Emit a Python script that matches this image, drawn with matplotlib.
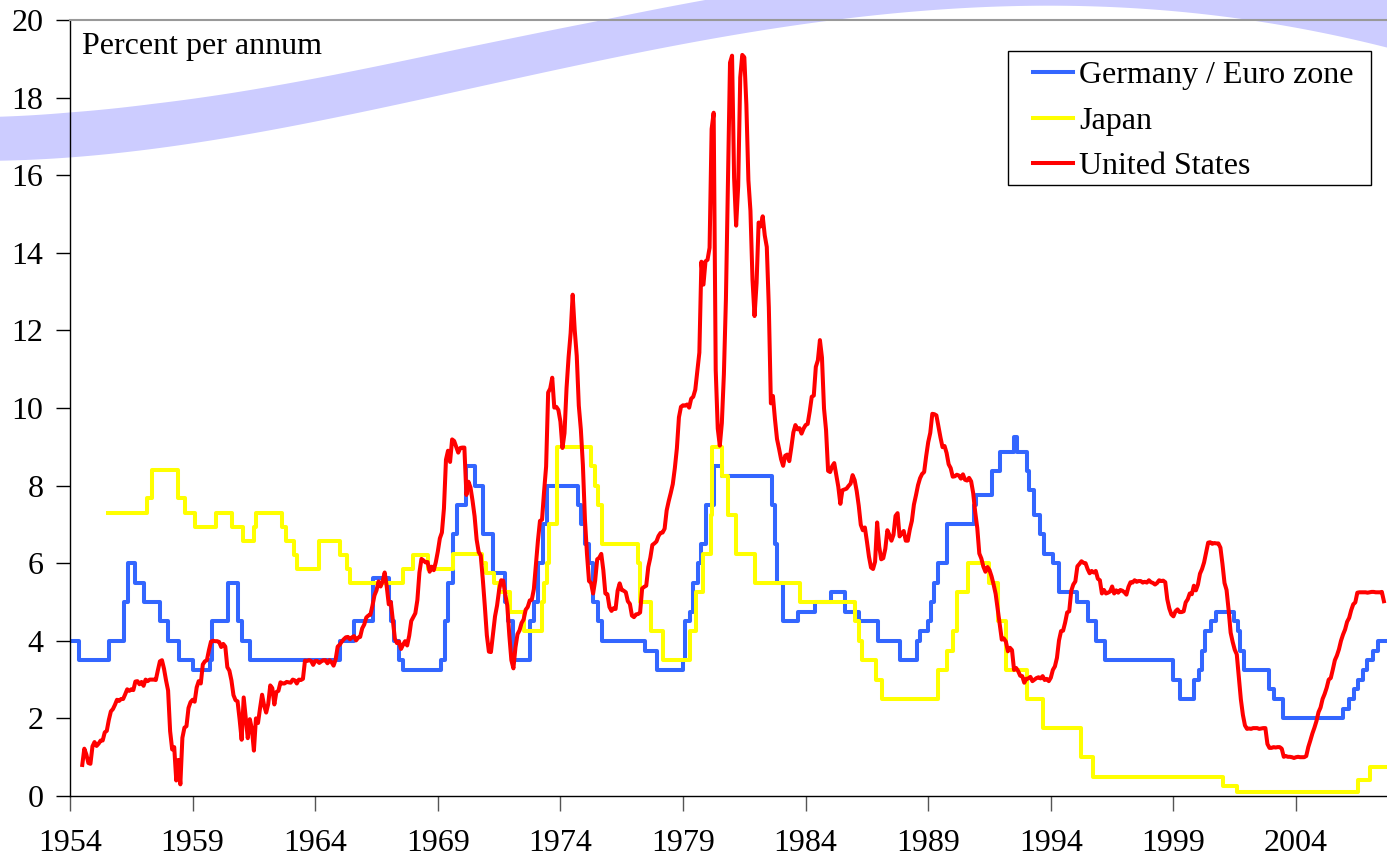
import numpy as np
import matplotlib
matplotlib.use("Agg")
import matplotlib.pyplot as plt
from matplotlib.patches import Rectangle

plt.rcParams['font.family'] = ['Liberation Serif', 'DejaVu Serif']

# Germany / Euro zone: date of change, rate (steps)
ger_dates = [1954.0, 1954.38, 1955.6, 1956.2, 1956.35, 1956.67, 1957.0, 1957.65, 1958.0, 1958.45,
             1959.0, 1959.7, 1959.8, 1960.45, 1960.85, 1961.0, 1961.35, 1965.0, 1965.58, 1966.35,
             1967.0, 1967.1, 1967.2, 1967.4, 1967.58, 1969.15, 1969.3, 1969.43, 1969.6, 1969.8,
             1970.17, 1970.5, 1970.85, 1971.25, 1971.72, 1971.85, 1972.05, 1972.75, 1972.92, 1973.1,
             1973.3, 1973.45, 1974.72, 1974.85, 1975.0, 1975.15, 1975.33, 1975.55, 1975.68, 1977.45,
             1977.93, 1979.0, 1979.1, 1979.28, 1979.42, 1979.6, 1979.72, 1979.92, 1980.25, 1980.6,
             1982.63, 1982.75, 1982.85, 1983.08, 1983.67, 1984.4, 1985.05, 1985.62, 1986.17, 1986.97,
             1987.85, 1988.55, 1988.65, 1989.0, 1989.1, 1989.25, 1989.4, 1989.77, 1990.85, 1990.95,
             1991.6, 1991.93, 1992.5, 1992.62, 1993.02, 1993.12, 1993.3, 1993.55, 1993.72, 1994.08,
             1994.33, 1995.08, 1995.53, 1995.85, 1996.2, 1999.0, 1999.25, 1999.83, 2000.05, 2000.15,
             2000.3, 2000.55, 2000.75, 2001.45, 2001.62, 2001.7, 2001.87, 2002.88, 2003.12, 2003.45,
             2005.92, 2006.18, 2006.35, 2006.52, 2006.72, 2006.88, 2007.12, 2007.33, 2007.7]
ger_rates = [4.0, 3.5, 4.0, 5.0, 6.0, 5.5, 5.0, 4.5, 4.0, 3.5,
             3.25, 3.5, 4.5, 5.5, 4.5, 4.0, 3.5, 4.0, 4.5, 5.625,
             5.0, 4.5, 4.0, 3.5, 3.25, 3.5, 4.5, 5.5, 6.75, 7.5,
             8.5, 8.0, 6.75, 5.75, 5.0, 4.5, 3.5, 4.5, 5.0, 6.0,
             7.0, 8.0, 7.5, 7.0, 6.5, 6.0, 5.0, 4.5, 4.0, 3.75,
             3.25, 3.5, 4.5, 4.75, 5.5, 6.0, 6.5, 7.5, 8.5, 8.25,
             7.5, 6.5, 5.5, 4.5, 4.75, 5.0, 5.25, 4.75, 4.5, 4.0,
             3.5, 4.0, 4.25, 4.5, 5.0, 5.5, 6.0, 7.0, 7.5, 7.75,
             8.375, 8.875, 9.25, 8.875, 8.375, 7.875, 7.25, 6.75, 6.25, 6.0,
             5.25, 5.0, 4.5, 4.0, 3.5, 3.0, 2.5, 3.0, 3.25, 3.75,
             4.25, 4.5, 4.75, 4.5, 4.25, 3.75, 3.25, 2.75, 2.5, 2.0,
             2.25, 2.5, 2.75, 3.0, 3.25, 3.5, 3.75, 4.0, 4.0]

# Japan: date of change, rate (steps)
jap_dates = [1955.55, 1957.15, 1957.35, 1958.4, 1958.68, 1959.1, 1959.95, 1960.62, 1961.05, 1961.52,
             1961.6, 1962.65, 1962.8, 1963.15, 1963.25, 1964.15, 1965.0, 1965.3, 1965.42, 1967.6,
             1967.97, 1968.6, 1969.6, 1970.8, 1970.95, 1971.3, 1971.5, 1971.95, 1972.5, 1973.25,
             1973.32, 1973.45, 1973.55, 1973.88, 1975.25, 1975.4, 1975.55, 1975.7, 1977.15, 1977.25,
             1977.68, 1978.2, 1979.3, 1979.52, 1979.83, 1980.15, 1980.2, 1980.58, 1980.85, 1981.18,
             1981.93, 1983.77, 1986.03, 1986.17, 1986.28, 1986.88, 1987.13, 1989.38, 1989.78, 1990.0,
             1990.17, 1990.63, 1991.48, 1991.83, 1992.17, 1993.03, 1993.67, 1995.23, 1995.7, 2001.03,
             2001.6, 2006.53, 2007.02, 2007.7]
jap_rates = [7.30, 7.67, 8.40, 7.67, 7.30, 6.94, 7.30, 6.94, 6.57, 6.94,
             7.30, 6.94, 6.57, 6.21, 5.84, 6.57, 6.21, 5.84, 5.48, 5.84,
             6.21, 5.84, 6.25, 6.0, 5.75, 5.5, 5.25, 4.75, 4.25, 5.0,
             5.5, 6.0, 7.0, 9.0, 8.5, 8.0, 7.5, 6.5, 6.0, 5.0,
             4.25, 3.5, 4.25, 5.25, 6.25, 7.25, 9.0, 8.25, 7.25, 6.25,
             5.5, 5.0, 4.5, 4.0, 3.5, 3.0, 2.5, 3.25, 3.75, 4.25,
             5.25, 6.0, 5.5, 4.5, 3.25, 2.5, 1.75, 1.0, 0.5, 0.25,
             0.1, 0.4, 0.75, 0.75]

# United States: monthly, July 1954 to August 2007
us_start = 1954 + 6 / 12
us_1950s = [0.80, 1.22, 1.07, 0.85, 0.83, 1.28,
            1.39, 1.29, 1.35, 1.43, 1.43, 1.64, 1.68, 1.96, 2.18, 2.24, 2.35, 2.48,
            2.45, 2.50, 2.50, 2.62, 2.75, 2.71, 2.75, 2.73, 2.95, 2.96, 2.88, 2.94,
            2.84, 3.00, 2.96, 3.00, 3.00, 3.00, 2.99, 3.24, 3.47, 3.50, 3.28, 2.98,
            2.72, 1.67, 1.20, 1.26, 0.40, 0.93, 0.30, 1.50, 1.76, 1.80, 2.27, 2.42,
            2.48, 2.43, 2.80, 2.96, 2.90, 3.39, 3.47, 3.50, 3.76, 3.98, 4.00, 3.99]
us_1960s = [3.99, 3.97, 3.84, 3.92, 3.85, 3.32, 3.23, 2.98, 2.60, 2.47, 2.44, 1.98,
            1.45, 2.54, 2.02, 1.49, 1.98, 1.73, 1.17, 2.00, 1.88, 2.26, 2.61, 2.33,
            2.15, 2.37, 2.85, 2.78, 2.36, 2.68, 2.71, 2.93, 2.90, 2.90, 2.94, 2.93,
            2.92, 3.00, 2.98, 2.90, 3.00, 2.99, 3.02, 3.49, 3.48, 3.50, 3.48, 3.38,
            3.48, 3.48, 3.43, 3.47, 3.50, 3.50, 3.42, 3.50, 3.45, 3.36, 3.52, 3.85,
            3.90, 3.98, 4.04, 4.09, 4.10, 4.04, 4.09, 4.12, 4.01, 4.08, 4.10, 4.32,
            4.42, 4.60, 4.65, 4.67, 4.90, 5.17, 5.30, 5.53, 5.40, 5.53, 5.76, 5.40,
            4.94, 5.00, 4.53, 4.05, 3.94, 3.98, 3.79, 3.90, 3.99, 3.88, 4.13, 4.51,
            4.61, 4.71, 5.05, 5.76, 6.11, 6.07, 6.02, 6.03, 5.78, 5.91, 5.82, 6.02,
            6.30, 6.64, 6.79, 7.41, 8.67, 8.90, 8.61, 9.19, 9.15, 9.00, 8.85, 8.97]
us_1970s = [8.98, 8.98, 7.76, 8.10, 7.95, 7.61, 7.21, 6.61, 6.29, 6.20, 5.60, 4.90,
            4.14, 3.72, 3.71, 4.16, 4.63, 4.91, 5.31, 5.56, 5.55, 5.20, 4.91, 4.14,
            3.50, 3.29, 3.83, 4.17, 4.27, 4.46, 4.55, 4.80, 4.87, 5.04, 5.06, 5.33,
            5.94, 6.58, 7.09, 7.12, 7.84, 8.49, 10.40, 10.50, 10.78, 10.01, 10.03, 9.95,
            9.65, 8.97, 9.35, 10.51, 11.31, 11.93, 12.92, 12.01, 11.34, 10.06, 9.45, 8.53,
            7.13, 6.24, 5.54, 5.49, 5.22, 5.55, 6.10, 6.14, 6.24, 5.82, 5.22, 5.20,
            4.87, 4.77, 4.84, 4.82, 5.29, 5.48, 5.31, 5.29, 5.25, 5.02, 4.95, 4.65,
            4.61, 4.68, 4.69, 4.73, 5.35, 5.39, 5.42, 5.90, 6.14, 6.47, 6.51, 6.56,
            6.70, 6.78, 6.79, 6.89, 7.36, 7.60, 7.81, 8.04, 8.45, 8.96, 9.76, 10.03,
            10.07, 10.06, 10.09, 10.01, 10.24, 10.29, 10.47, 10.94, 11.43, 13.77, 13.18, 13.78]
us_1980s = [13.82, 14.13, 17.19, 17.61, 10.98, 9.47, 9.03, 9.61, 10.87, 12.81, 15.85, 18.90,
            19.08, 15.93, 14.70, 15.72, 18.52, 19.10, 19.04, 17.82, 15.87, 15.08, 13.31, 12.37,
            13.22, 14.78, 14.68, 14.94, 14.45, 14.15, 12.59, 10.12, 10.31, 9.71, 9.20, 8.95,
            8.68, 8.51, 8.77, 8.80, 8.63, 8.98, 9.37, 9.56, 9.45, 9.48, 9.34, 9.47,
            9.56, 9.59, 9.91, 10.29, 10.32, 11.06, 11.23, 11.75, 11.30, 9.99, 9.43, 8.38,
            8.35, 8.50, 8.58, 8.27, 7.97, 7.53, 7.88, 7.90, 7.92, 7.99, 8.05, 8.27,
            8.14, 7.86, 7.48, 6.99, 6.85, 6.92, 6.56, 6.17, 5.89, 5.85, 6.04, 7.05,
            6.43, 6.10, 6.13, 6.37, 6.85, 6.73, 6.58, 6.73, 7.22, 7.29, 6.69, 6.77,
            6.83, 6.58, 6.58, 6.87, 7.09, 7.51, 7.75, 8.01, 8.19, 8.30, 8.35, 8.76,
            9.12, 9.36, 9.85, 9.84, 9.81, 9.53, 9.24, 8.99, 9.02, 8.84, 8.55, 8.45]
us_1990s = [8.23, 8.24, 8.28, 8.26, 8.18, 8.29, 8.15, 8.13, 8.20, 8.11, 7.81, 7.31,
            6.91, 6.25, 6.12, 5.91, 5.78, 5.90, 5.82, 5.66, 5.45, 5.21, 4.81, 4.43,
            4.03, 4.06, 3.98, 3.73, 3.82, 3.76, 3.25, 3.30, 3.22, 3.10, 3.09, 2.92,
            3.02, 3.03, 3.07, 2.96, 3.00, 3.04, 3.06, 3.03, 3.09, 2.99, 3.02, 2.96,
            3.05, 3.25, 3.34, 3.56, 4.01, 4.25, 4.26, 4.47, 4.73, 4.76, 5.29, 5.45,
            5.53, 5.92, 5.98, 6.05, 6.01, 6.00, 5.85, 5.74, 5.80, 5.76, 5.80, 5.60,
            5.56, 5.22, 5.31, 5.22, 5.24, 5.27, 5.40, 5.22, 5.30, 5.24, 5.31, 5.29,
            5.25, 5.19, 5.39, 5.51, 5.50, 5.56, 5.52, 5.54, 5.54, 5.50, 5.52, 5.50,
            5.56, 5.51, 5.49, 5.45, 5.49, 5.56, 5.54, 5.55, 5.51, 5.07, 4.83, 4.68,
            4.63, 4.76, 4.81, 4.74, 4.74, 4.76, 4.99, 5.07, 5.22, 5.20, 5.42, 5.30]
us_2000s = [5.45, 5.73, 5.85, 6.02, 6.27, 6.53, 6.54, 6.50, 6.52, 6.51, 6.51, 6.40,
            5.98, 5.49, 5.31, 4.80, 4.21, 3.97, 3.77, 3.65, 3.07, 2.49, 2.09, 1.82,
            1.73, 1.74, 1.73, 1.75, 1.75, 1.75, 1.73, 1.74, 1.75, 1.75, 1.34, 1.24,
            1.24, 1.26, 1.25, 1.26, 1.26, 1.22, 1.01, 1.03, 1.01, 1.01, 1.00, 0.98,
            1.00, 1.01, 1.00, 1.00, 1.00, 1.03, 1.26, 1.43, 1.61, 1.76, 1.93, 2.16,
            2.28, 2.50, 2.63, 2.79, 3.00, 3.04, 3.26, 3.50, 3.62, 3.78, 4.00, 4.16,
            4.29, 4.49, 4.59, 4.79, 4.94, 4.99, 5.24, 5.25, 5.25, 5.25, 5.25, 5.24,
            5.25, 5.26, 5.26, 5.25, 5.25, 5.25, 5.26, 5.02]

year_ticks = list(range(1954, 2005, 5))

# decorative swoosh at the top (figure pixels): lower edge and thickness
band_x = [0, 70, 153, 233, 333, 460, 593, 727, 860, 920, 970, 1020, 1120, 1220, 1320, 1387]
band_low = [162, 155, 148, 139, 121, 87, 60, 39, 20, 10, 6, 5, 7, 17, 33, 47]
band_thick = [44, 45, 45, 44, 43, 42, 40, 40, 42, 44, 46, 48, 50, 52, 54, 56]

us_rate = us_1950s + us_1960s + us_1970s + us_1980s + us_1990s + us_2000s
us_time = us_start + np.arange(len(us_rate)) / 12

fig = plt.figure(figsize=(13.87, 8.6), dpi=100)

# smooth band behind everything
bg = fig.add_axes([0, 0, 1, 1])
bg.set_xlim(0, 1387)
bg.set_ylim(860, 0)
bg.axis('off')
xs = np.linspace(0, 1387, 400)
low = np.polyval(np.polyfit(band_x, band_low, 5), xs)
high = low - np.interp(xs, band_x, band_thick)
bg.fill_between(xs, low, high, color='#ccccff', lw=0)

ax = fig.add_axes([70 / 1387, 64 / 860, 1317 / 1387, 776 / 860])
ax.patch.set_alpha(0)

ax.plot(ger_dates, ger_rates, drawstyle='steps-post', color='#3366ff', lw=2.9, label='Germany / Euro zone')
ax.plot(jap_dates, jap_rates, drawstyle='steps-post', color='#ffff00', lw=2.9, label='Japan')
ax.plot(us_time, us_rate, color='#ff0000', lw=2.9, label='United States')

ax.set_xlim(1954, 2007.71)
ax.set_ylim(0, 20)
ax.set_xticks(year_ticks)
ax.set_yticks(range(0, 21, 2))

ax.spines['right'].set_visible(False)
ax.spines['top'].set_color('#999999')
ax.spines['top'].set_linewidth(1.5)
for s in ['left', 'bottom']:
    ax.spines[s].set_color('black')
    ax.spines[s].set_linewidth(1)

ax.tick_params(axis='y', direction='out', length=10, width=1, pad=9, labelsize=23)
ax.tick_params(axis='x', direction='out', length=11, width=1, pad=13, labelsize=23, color='#555555')

ax.text(0.009, 0.985, 'Percent per annum', transform=ax.transAxes, ha='left', va='top', fontsize=23)

# legend box drawn by hand to match the reference padding
ax.add_patch(Rectangle((1008 / 1387, (860 - 185) / 860), 363 / 1387, 134 / 860,
                       transform=fig.transFigure, facecolor='white', edgecolor='black',
                       lw=1, zorder=4))
leg = ax.legend(loc='upper left', bbox_to_anchor=(1033 / 1387, (860 - 61) / 860),
                bbox_transform=fig.transFigure, fontsize=23, frameon=False,
                handlelength=1.25, handletextpad=0.2, labelspacing=0.5,
                borderpad=0, borderaxespad=0)
leg.set_zorder(5)

fig.savefig('out.png', dpi=100)
